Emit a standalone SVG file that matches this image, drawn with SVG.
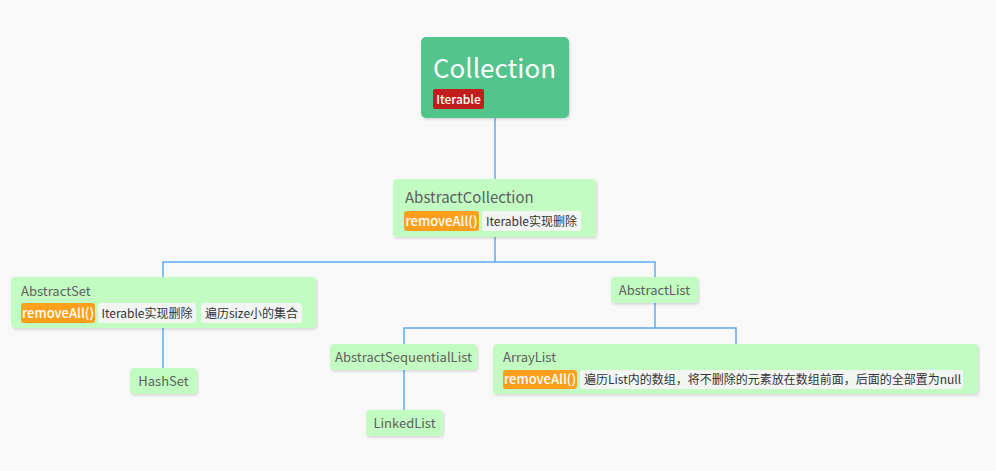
<svg xmlns="http://www.w3.org/2000/svg" width="996" height="471" viewBox="0 0 996 471">
<defs>
<filter id="sh" x="-5%" y="-10%" width="110%" height="130%"><feDropShadow dx="1" dy="1.5" stdDeviation="1.2" flood-color="#000" flood-opacity="0.15"/></filter>
</defs>
<style>
text{font-family:"Noto Sans CJK SC","Noto Sans",sans-serif;}
.n{fill:#c2fcc2;filter:url(#sh);}
.t{fill:#5e5e5e;font-size:13px;}
.tl{fill:#5e5e5e;font-size:15px;}
.or{fill:#fb9f1d;}
.ot{fill:#fff;font-size:13px;font-weight:500;}
.gy{fill:#f3f5f3;}
.gt{fill:#333;font-size:12px;}
.c{stroke:#5aacf7;stroke-width:1.5;fill:none;}
</style>
<rect width="996" height="471" fill="#f8f8f8"/>
<g id="connectors">
<path class="c" d="M495 118V180"/>
<path class="c" d="M495 237V262H163V278M495 262H655V278"/>
<path class="c" d="M163 328V368"/>
<path class="c" d="M655 303V328H404V344M655 328H736V344"/>
<path class="c" d="M404 370V410"/>
</g>
<g id="collection">
<rect x="421" y="37" width="148" height="81" rx="5" fill="#52c48c" filter="url(#sh)"/>
<text x="433" y="78" fill="#fff" style="font-size:26px">Collection</text>
<rect x="433" y="89" width="51" height="20" rx="2" fill="#c21d1d"/>
<text x="458.5" y="103.5" fill="#fff" text-anchor="middle" style="font-size:12px;font-weight:500">Iterable</text>
</g>
<g id="abstractcollection">
<rect class="n" x="393" y="179" width="203" height="58" rx="4"/>
<text class="tl" x="405" y="203">AbstractCollection</text>
<rect class="or" x="404" y="211" width="75" height="20" rx="3"/>
<text class="ot" x="441.5" y="225.5" text-anchor="middle">removeAll()</text>
<rect class="gy" x="482" y="211" width="99" height="20" rx="3"/>
<text class="gt" x="531.5" y="225.5" text-anchor="middle">Iterable实现删除</text>
</g>
<g id="abstractset">
<rect class="n" x="11" y="277" width="305" height="51" rx="4"/>
<text class="t" x="21" y="296">AbstractSet</text>
<rect class="or" x="21" y="303" width="74" height="20" rx="3"/>
<text class="ot" x="58" y="317.5" text-anchor="middle">removeAll()</text>
<rect class="gy" x="98" y="303" width="98" height="20" rx="3"/>
<text class="gt" x="147" y="317.5" text-anchor="middle">Iterable实现删除</text>
<rect class="gy" x="201" y="303" width="101" height="20" rx="3"/>
<text class="gt" x="251.5" y="317.5" text-anchor="middle">遍历size小的集合</text>
</g>
<g id="hashset">
<rect class="n" x="130" y="368" width="67" height="26" rx="4"/>
<text class="t" x="163.5" y="386" text-anchor="middle">HashSet</text>
</g>
<g id="abstractlist">
<rect class="n" x="611" y="277" width="87" height="26" rx="4"/>
<text class="t" x="654.5" y="295" text-anchor="middle">AbstractList</text>
</g>
<g id="abstractsequentiallist">
<rect class="n" x="330" y="344" width="147" height="26" rx="4"/>
<text class="t" x="403.5" y="362" text-anchor="middle">AbstractSequentialList</text>
</g>
<g id="linkedlist">
<rect class="n" x="366" y="410" width="77" height="26" rx="4"/>
<text class="t" x="404.5" y="428" text-anchor="middle">LinkedList</text>
</g>
<g id="arraylist">
<rect class="n" x="493" y="344" width="485" height="50" rx="4"/>
<text class="t" x="503" y="362">ArrayList</text>
<rect class="or" x="503" y="370" width="74" height="19" rx="3"/>
<text class="ot" x="540" y="384" text-anchor="middle">removeAll()</text>
<rect class="gy" x="580" y="370" width="383" height="19" rx="3"/>
<text class="gt" x="584" y="384">遍历List内的数组，将不删除的元素放在数组前面，后面的全部置为null</text>
</g>
</svg>
